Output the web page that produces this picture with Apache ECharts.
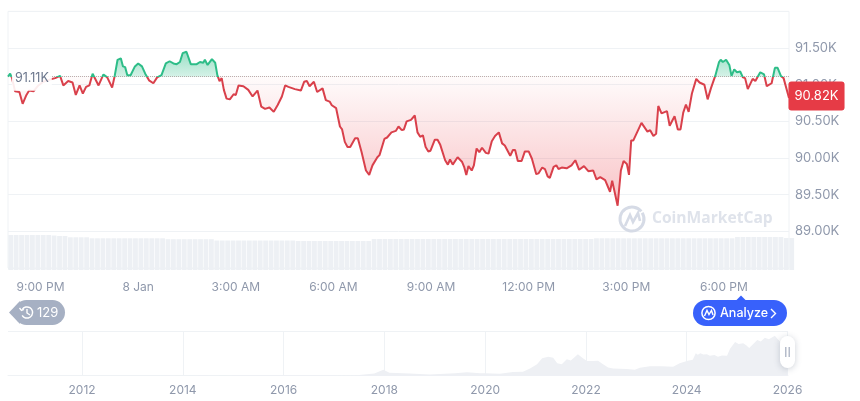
<!DOCTYPE html>
<html>
<head>
<meta charset="utf-8">
<style>html,body{margin:0;padding:0;background:#fff}#main{width:860px;height:401px}</style>
<script src="https://cdn.jsdelivr.net/npm/echarts@6/dist/echarts.min.js"></script>
</head>
<body>
<div id="main"></div>
<script>
// minutes after 8:00 PM on 7 Jan
var priceTimes = [
  0,4,7,13,21,27,34,39,47,56,65,77,87,96,102,111,119,125,132,138,144,150,156,167,176,183,192,197,202,208,
  212,216,220,226,234,240,247,253,260,268,275,283,291,298,305,311,317,322,329,337,348,354,360,363,368,376,382,386,390,394,
  398,403,409,416,420,425,434,443,451,460,467,474,482,490,497,505,511,517,529,540,546,551,556,564,570,580,586,593,597,605,
  612,616,621,626,631,640,645,652,660,666,672,681,685,694,699,707,715,720,726,730,735,743,746,750,755,760,765,770,775,779,
  787,792,797,806,811,815,820,829,837,841,845,849,855,859,864,869,874,881,886,892,898,905,911,916,926,931,935,940,947,953,
  960,966,974,978,985,990,995,999,1006,1011,1015,1021,1030,1039,1046,1053,1062,1070,1079,1085,1092,1101,1110,1114,1124,1130,1135,1141,1145,1149,
  1153,1168,1179,1184,1190,1195,1199,1205,1215,1220,1229,1235,1240,1245,1250,1255,1261,1269,1275,1284,1290,1296,1304,1311,1314,1318,1324,1330,1334,1339,
  1344,1350,1355,1359,1364,1373,1378,1387,1394,1399,1408,1414,1419,1425,1430,1440
];
var priceValues = [
  91.11,91.15,91.10,90.91,90.90,90.74,90.86,90.92,90.91,90.99,91.04,91.07,91.09,91.12,90.99,91.05,91.03,90.86,90.99,90.88,90.97,90.99,91.15,90.99,91.14,91.10,90.96,91.13,91.34,91.36,
  91.25,91.24,91.13,91.13,91.25,91.29,91.25,91.15,91.06,91.02,91.10,91.13,91.29,91.32,91.29,91.28,91.31,91.43,91.45,91.28,91.28,91.31,91.30,91.34,91.27,91.35,91.30,91.13,91.05,91.09,
  90.93,90.81,90.80,90.87,90.86,90.99,90.98,90.93,90.84,90.92,90.70,90.67,90.69,90.63,90.72,90.84,90.99,90.97,90.94,90.92,91.04,91.05,90.98,91.04,90.90,90.95,90.79,90.77,90.72,90.68,
  90.43,90.39,90.22,90.15,90.15,90.27,90.27,90.08,89.83,89.77,89.90,90.01,90.04,90.26,90.28,90.35,90.37,90.43,90.38,90.39,90.50,90.52,90.53,90.58,90.35,90.29,90.31,90.15,90.09,90.10,
  90.25,90.25,90.18,89.97,89.91,89.98,89.91,90.01,89.95,89.88,89.77,89.89,89.83,89.90,90.13,90.08,90.14,90.07,90.06,90.23,90.30,90.35,90.20,90.17,90.03,90.11,90.11,89.96,89.96,90.09,
  90.09,89.99,89.78,89.79,89.87,89.85,89.75,89.73,89.88,89.90,89.85,89.87,89.86,89.90,89.97,89.84,89.89,89.82,89.83,89.71,89.74,89.70,89.54,89.69,89.35,89.83,89.96,89.92,89.77,90.24,
  90.24,90.48,90.36,90.38,90.30,90.33,90.71,90.61,90.64,90.44,90.57,90.39,90.39,90.62,90.73,90.63,90.88,91.08,91.03,91.00,90.80,90.95,91.12,91.31,91.34,91.31,91.34,91.27,91.12,91.21,
  91.17,91.18,91.10,91.09,90.94,91.08,91.05,91.17,91.14,90.98,91.02,91.23,91.23,91.12,91.09,90.82
];
var basePrice = 91.11;
var lastPrice = 90.82;

// one bar per 10 minutes
var volumeValues = [
  35,35,35,35,35,35,35,35,34.5,34,34,32.7,32.7,32.7,32.7,31.7,31.7,31.7,31.7,31.7,31.7,31.7,31.7,31.7,
  31.7,31.7,31.7,31.7,31.7,30.8,30.8,30.8,30.8,30.8,30.8,30.8,30.8,30.8,29.5,29.5,29.5,29.5,29.5,29.5,29.5,29.5,29.5,29.5,
  29.5,29.5,29.5,29.5,29.5,29,29,29,29,29,29,29,29,29,29,29,29,29,29,31,31,31,31,31,
  31,31,31,31,31,31,31,31,31,31,31,31,31,31,31,31,31,31,31,31,31,31,31,31,31,31,31,31,31,31,31,31,31,31,31,31,
  31.7,31.7,31.7,31.7,31.7,31.7,31.7,31.7,31.7,31.7,31.7,31.7,31.7,31.7,31.7,31.7,31.7,31.7,31.7,31.7,31.7,31.7,31.7,31.7,31.7,31.7,
  33,33,33,33,33,33,33,33,33,32,32,32,0
];

var timeTicks = [60,240,420,600,780,960,1140,1320];
var timeLabels = ['9:00 PM','8 Jan','3:00 AM','6:00 AM','9:00 AM','12:00 PM','3:00 PM','6:00 PM'];

var navYears = [2010.53,2013,2015,2016.5,2017,2017.5,2017.8,2017.98,2018.1,2018.5,2018.9,2019.4,2019.64,2019.9,2020,2020.29,2020.55,2020.75,2020.89,2021.03,2021.13,2021.25,2021.35,2021.43,2021.52,2021.62,2021.7,2021.84,2021.94,2022.02,2022.14,2022.24,2022.34,2022.44,2022.54,2022.81,2022.97,2023.07,2023.27,2023.5,2023.73,2023.86,2024.02,2024.12,2024.18,2024.22,2024.27,2024.33,2024.4,2024.46,2024.55,2024.62,2024.7,2024.8,2024.86,2024.96,2025.03,2025.12,2025.18,2025.24,2025.3,2025.4,2025.47,2025.55,2025.63,2025.75,2025.79,2025.85,2026];
var navPrices = [0.1,0.2,0.3,0.6,1,2.5,7,19,9,7,4,8,11,7.5,7.4,6,11.6,12.7,23,36,55,60,57,39,36,52,48,68,55,46,46,47,36,26,23,21,19,25,30,30,28,39,47,50,71,66,71,67,68,63,65,60,64,63,85,106,100,102,96,87,97,113,108,120,115,126,118,108,91];
var yearTicks = [2012,2014,2016,2018,2020,2022,2024,2026];

var red = '#d9404b', green = '#2dbd88', labelColor = '#8f98ab', lineColor = '#eff2f5';

// pixel height of the base price, where the line and area change colour
var gridTop = 11.4, gridHeight = 256.6, yMin = 88.5, yMax = 92;
var baseY = gridTop + (yMax - basePrice) / (yMax - yMin) * gridHeight;
var areaTop = 50, areaBottom = 205;
var areaSplit = (baseY - areaTop) / (areaBottom - areaTop);

var dom = document.getElementById('main');
var myChart = echarts.init(dom);

var option = {
  animation: false,
  backgroundColor: '#fff',
  grid: [
    {left: 8, right: 71, top: gridTop, height: gridHeight, show: true, borderColor: lineColor, borderWidth: 1, backgroundColor: 'transparent'},
    {left: 8, right: 71, top: 235, height: 35},
    {left: 8, right: 72, top: 331, height: 44.7}
  ],
  xAxis: [
    {
      gridIndex: 0, type: 'value', min: 0, max: 1440,
      axisLine: {show: false}, splitLine: {show: false},
      axisTick: {show: false, customValues: timeTicks},
      axisLabel: {
        customValues: timeTicks, margin: 13, fontFamily: 'Inter', fontSize: 12, color: labelColor,
        formatter: function (v) { return timeLabels[timeTicks.indexOf(v)]; }
      }
    },
    {gridIndex: 1, type: 'value', min: 0, max: 1440, show: false},
    {
      gridIndex: 2, type: 'value', min: 2010.53, max: 2026.01,
      axisLine: {show: true, lineStyle: {color: lineColor}},
      splitLine: {show: true, lineStyle: {color: lineColor}},
      axisTick: {show: false, customValues: yearTicks},
      axisLabel: {
        customValues: yearTicks, margin: 9, fontFamily: 'Inter', fontSize: 12, color: labelColor,
        formatter: function (v) { return String(v); }
      }
    }
  ],
  yAxis: [
    {
      gridIndex: 0, type: 'value', min: yMin, max: yMax, interval: 0.5, position: 'right',
      axisLine: {show: false}, axisTick: {show: false},
      splitLine: {lineStyle: {color: lineColor}},
      axisLabel: {
        fontFamily: 'Inter', fontSize: 13, color: labelColor,
        margin: 6, showMinLabel: false, showMaxLabel: false,
        formatter: function (v) { return v.toFixed(2) + 'K'; }
      }
    },
    {gridIndex: 1, type: 'value', min: 0, max: 35, show: false},
    {
      gridIndex: 2, type: 'value', min: 0, max: 141, interval: 141,
      axisLine: {show: false}, axisTick: {show: false}, axisLabel: {show: false},
      splitLine: {lineStyle: {color: lineColor}}
    }
  ],
  series: [
    {
      type: 'line', xAxisIndex: 0, yAxisIndex: 0, z: 5, silent: true,
      showSymbol: false, symbol: 'none',
      data: priceTimes.map(function (t, i) { return [t, priceValues[i]]; }),
      lineStyle: {
        width: 2,
        color: new echarts.graphic.LinearGradient(0, 0, 0, 401, [
          {offset: 0, color: green},
          {offset: baseY / 401, color: green},
          {offset: baseY / 401, color: red},
          {offset: 1, color: red}
        ], true)
      },
      areaStyle: {
        origin: basePrice, opacity: 1,
        color: new echarts.graphic.LinearGradient(0, areaTop, 0, areaBottom, [
          {offset: 0, color: 'rgba(45,189,136,0.5)'},
          {offset: areaSplit, color: 'rgba(45,189,136,0.2)'},
          {offset: areaSplit, color: 'rgba(234,57,67,0.02)'},
          {offset: 1, color: 'rgba(234,57,67,0.3)'}
        ], true)
      },
      markLine: {
        silent: true, symbol: 'none', animation: false,
        lineStyle: {color: '#c9a9ae', type: 'dotted', width: 1},
        label: {show: false},
        data: [{yAxis: basePrice}]
      },
      markPoint: {
        silent: true, animation: false, symbol: 'circle', symbolSize: 1, z: 8,
        itemStyle: {color: 'transparent'},
        data: [
          {
            coord: [44, basePrice],
            label: {
              show: true, position: 'inside', offset: [0, 2], formatter: basePrice.toFixed(2) + 'K',
              fontFamily: 'Inter', fontSize: 12.5, color: '#6b768c',
              backgroundColor: 'rgba(255,255,255,0.9)', padding: [6, 3, 5, 3]
            }
          },
          {
            coord: [1440, lastPrice],
            label: {
              show: true, position: 'inside', offset: [27.5, -2], formatter: lastPrice.toFixed(2) + 'K',
              fontFamily: 'Inter', fontSize: 13, color: '#fff',
              backgroundColor: '#e63b46', borderRadius: 3, padding: [8, 6]
            }
          }
        ]
      }
    },
    {
      type: 'bar', xAxisIndex: 1, yAxisIndex: 1, z: 3, silent: true, barWidth: 4.8,
      itemStyle: {color: '#edf0f4'},
      data: volumeValues.map(function (v, i) { return [i * 10 + 5, v]; })
    },
    {
      type: 'line', xAxisIndex: 2, yAxisIndex: 2, z: 3, silent: true,
      showSymbol: false, symbol: 'none',
      lineStyle: {width: 0},
      areaStyle: {color: '#eef0f4', opacity: 1},
      data: navYears.map(function (y, i) { return [y, navPrices[i]]; })
    }
  ],
  graphic: [
    // watermark
    {type: 'arc', z: 1, silent: true, shape: {cx: 632, cy: 219, r: 12, startAngle: -0.55, endAngle: 5.6}, style: {fill: null, stroke: '#d6dbe6', lineWidth: 3}},
    {type: 'polyline', z: 1, silent: true, shape: {points: [[625, 226], [630, 215], [633, 222], [638, 213], [640, 221]]}, style: {fill: null, stroke: '#d6dbe6', lineWidth: 2.6}},
    {type: 'text', z: 1, silent: true, x: 652, y: 219, style: {text: 'CoinMarketCap', fontFamily: 'Open Sans', fontWeight: 'bold', fontSize: 15.6, fill: '#dfe3eb', textVerticalAlign: 'middle'}},
    // history badge
    {type: 'rect', z: 10, silent: true, shape: {x: 14, y: 300, width: 51, height: 25, r: 12.5}, style: {fill: '#a6b0c3'}},
    {type: 'polygon', z: 10, silent: true, shape: {points: [[9, 312.5], [20, 301], [20, 324]]}, style: {fill: '#a6b0c3'}},
    {type: 'arc', z: 11, silent: true, shape: {cx: 27, cy: 312.5, r: 5.6, startAngle: -2.6, endAngle: 2.6}, style: {fill: null, stroke: '#fff', lineWidth: 1.5}},
    {type: 'polyline', z: 11, silent: true, shape: {points: [[27, 309], [27, 313], [30, 315]]}, style: {fill: null, stroke: '#fff', lineWidth: 1.4}},
    {type: 'polyline', z: 11, silent: true, shape: {points: [[19.5, 308], [21.5, 310.5], [24, 309.5]]}, style: {fill: null, stroke: '#fff', lineWidth: 1.3}},
    {type: 'text', z: 11, silent: true, x: 37, y: 313, style: {text: '129', fontFamily: 'Inter', fontSize: 13, fill: '#fff', textVerticalAlign: 'middle'}},
    // analyze button
    {type: 'rect', z: 10, silent: true, shape: {x: 693, y: 300, width: 94, height: 26, r: 13}, style: {fill: '#3861fb'}},
    {type: 'polygon', z: 10, silent: true, shape: {points: [[736, 300.5], [741, 295.5], [746, 300.5]]}, style: {fill: '#3861fb'}},
    {type: 'arc', z: 11, silent: true, shape: {cx: 708.5, cy: 313, r: 6.6, startAngle: 0, endAngle: 6.283}, style: {fill: null, stroke: '#fff', lineWidth: 1.5}},
    {type: 'polyline', z: 11, silent: true, shape: {points: [[704.5, 316], [707, 310.5], [709, 314.5], [711.5, 310.5], [713, 315]]}, style: {fill: null, stroke: '#fff', lineWidth: 1.4}},
    {type: 'text', z: 11, silent: true, x: 720, y: 313.5, style: {text: 'Analyze', fontFamily: 'Inter', fontSize: 12.5, fontWeight: 500, fill: '#fff', textVerticalAlign: 'middle'}},
    {type: 'polyline', z: 11, silent: true, shape: {points: [[771, 309], [775.5, 313.5], [771, 318]]}, style: {fill: null, stroke: '#fff', lineWidth: 1.4}},
    // range handle
    {type: 'rect', z: 12, silent: true, shape: {x: 780, y: 336, width: 15, height: 32, r: 7.5}, style: {fill: '#fff', shadowBlur: 6, shadowColor: 'rgba(88,102,126,0.3)', shadowOffsetY: 1}},
    {type: 'rect', z: 13, silent: true, shape: {x: 785, y: 347, width: 1.5, height: 10}, style: {fill: '#b5bcca'}},
    {type: 'rect', z: 13, silent: true, shape: {x: 788.5, y: 347, width: 1.5, height: 10}, style: {fill: '#b5bcca'}}
  ]
};

myChart.setOption(option);
</script>
</body>
</html>
